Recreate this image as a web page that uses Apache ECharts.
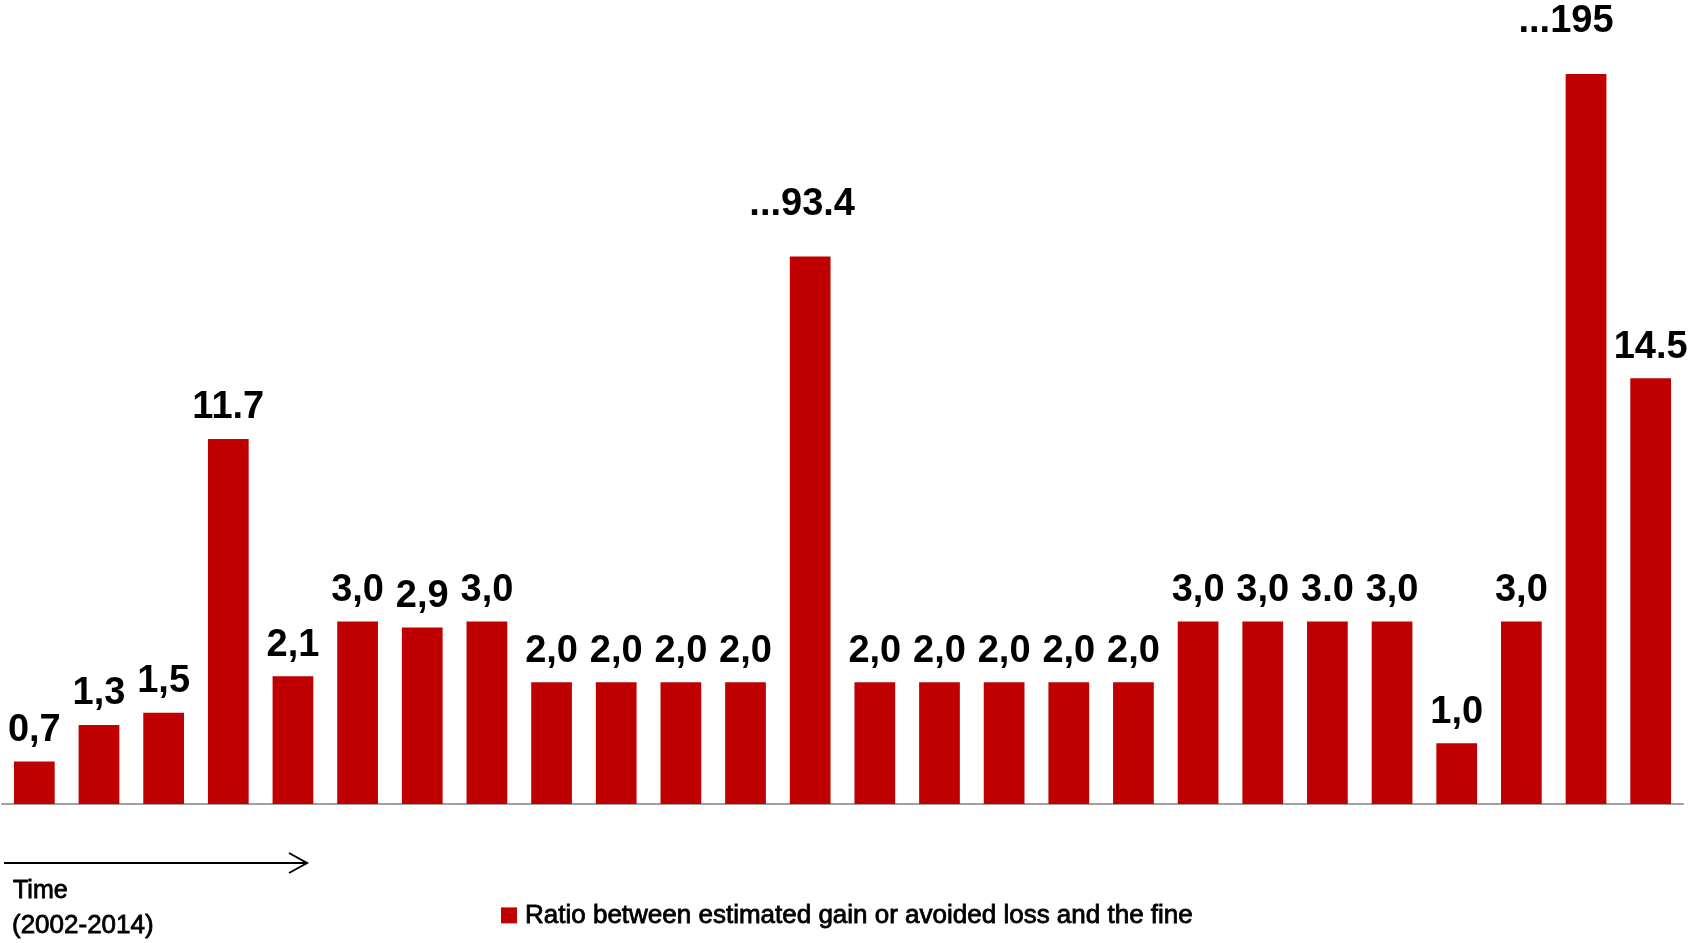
<!DOCTYPE html>
<html>
<head>
<meta charset="utf-8">
<script src="https://cdn.jsdelivr.net/npm/echarts@6/dist/echarts.min.js"></script>
<style>
html,body{margin:0;padding:0;background:#fff;}
#chart{width:1690px;height:943px;}
</style>
</head>
<body>
<div id="chart"></div>
<script>
// Bars, in order of time (2002-2014)
var categories = ['1','2','3','4','5','6','7','8','9','10','11','12','13','14','15','16','17','18','19','20','21','22','23','24','25','26'];
// Plotted bar heights (the chart uses a broken scale for the very large ratios)
var barHeights = [0.7, 1.3, 1.5, 6.0, 2.1, 3.0, 2.9, 3.0, 2.0, 2.0, 2.0, 2.0, 9.0, 2.0, 2.0, 2.0, 2.0, 2.0, 3.0, 3.0, 3.0, 3.0, 1.0, 3.0, 12.0, 7.0];
// Value labels as printed above each bar
var valueLabels = ['0,7','1,3','1,5','11.7','2,1','3,0','2,9','3,0','2,0','2,0','2,0','2,0','...93.4','2,0','2,0','2,0','2,0','2,0','3,0','3,0','3.0','3,0','1,0','3,0','...195','14.5'];
var seriesName = 'Ratio between estimated gain or avoided loss and the fine';
var timeLabel = ['Time', '(2002-2014)'];

var chart = echarts.init(document.getElementById('chart'), null, {renderer: 'canvas'});
var FONT = '"Liberation Sans", Arial, sans-serif';

var seriesData = barHeights.map(function (v, i) {
  var item = {value: v};
  if (valueLabels[i] === '...93.4') {
    item.label = {distance: 33, offset: [-8, 0]};
  } else if (valueLabels[i] === '...195') {
    item.label = {distance: 33, offset: [-20, 0]};
  }
  return item;
});

chart.setOption({
  animation: false,
  backgroundColor: '#ffffff',
  grid: {left: 2, right: 7, top: 74, bottom: 139, containLabel: false},
  xAxis: {
    type: 'category',
    data: categories,
    axisLine: {show: true, lineStyle: {color: '#a0a0a0', width: 2}},
    axisTick: {show: false},
    axisLabel: {show: false},
    splitLine: {show: false}
  },
  yAxis: {
    type: 'value', min: 0, max: 12, interval: 1,
    show: false
  },
  legend: {
    show: true,
    left: 501, top: 902, padding: 0,
    icon: 'rect', itemWidth: 16, itemHeight: 16, itemGap: 8,
    textStyle: {color: '#000', fontFamily: FONT, fontSize: 26, fontWeight: 'normal',
      textBorderColor: '#000', textBorderWidth: 0.8, padding: [0, 0, 0, 3]},
    data: [seriesName]
  },
  series: [{
    name: seriesName,
    type: 'bar',
    data: seriesData,
    barWidth: '63%',
    itemStyle: {color: '#C00000'},
    label: {
      show: true,
      position: 'top',
      distance: 12,
      color: '#000',
      fontFamily: FONT,
      fontSize: 38,
      fontWeight: 'bold',
      formatter: function (p) { return valueLabels[p.dataIndex]; }
    }
  }],
  graphic: [
    {type: 'line', shape: {x1: 4, y1: 863, x2: 307, y2: 863}, style: {stroke: '#000', lineWidth: 2}},
    {type: 'polyline', shape: {points: [[289, 853], [307, 863], [289, 873]]}, style: {stroke: '#000', lineWidth: 2, fill: null}},
    {type: 'text', x: 13, y: 891, style: {text: timeLabel[0], fill: '#000', stroke: '#000', lineWidth: 0.8, font: 'normal 25px ' + FONT, verticalAlign: 'middle', align: 'left'}},
    {type: 'text', x: 12, y: 926, style: {text: timeLabel[1], fill: '#000', stroke: '#000', lineWidth: 0.8, font: 'normal 26px ' + FONT, verticalAlign: 'middle', align: 'left'}}
  ]
});
</script>
</body>
</html>
